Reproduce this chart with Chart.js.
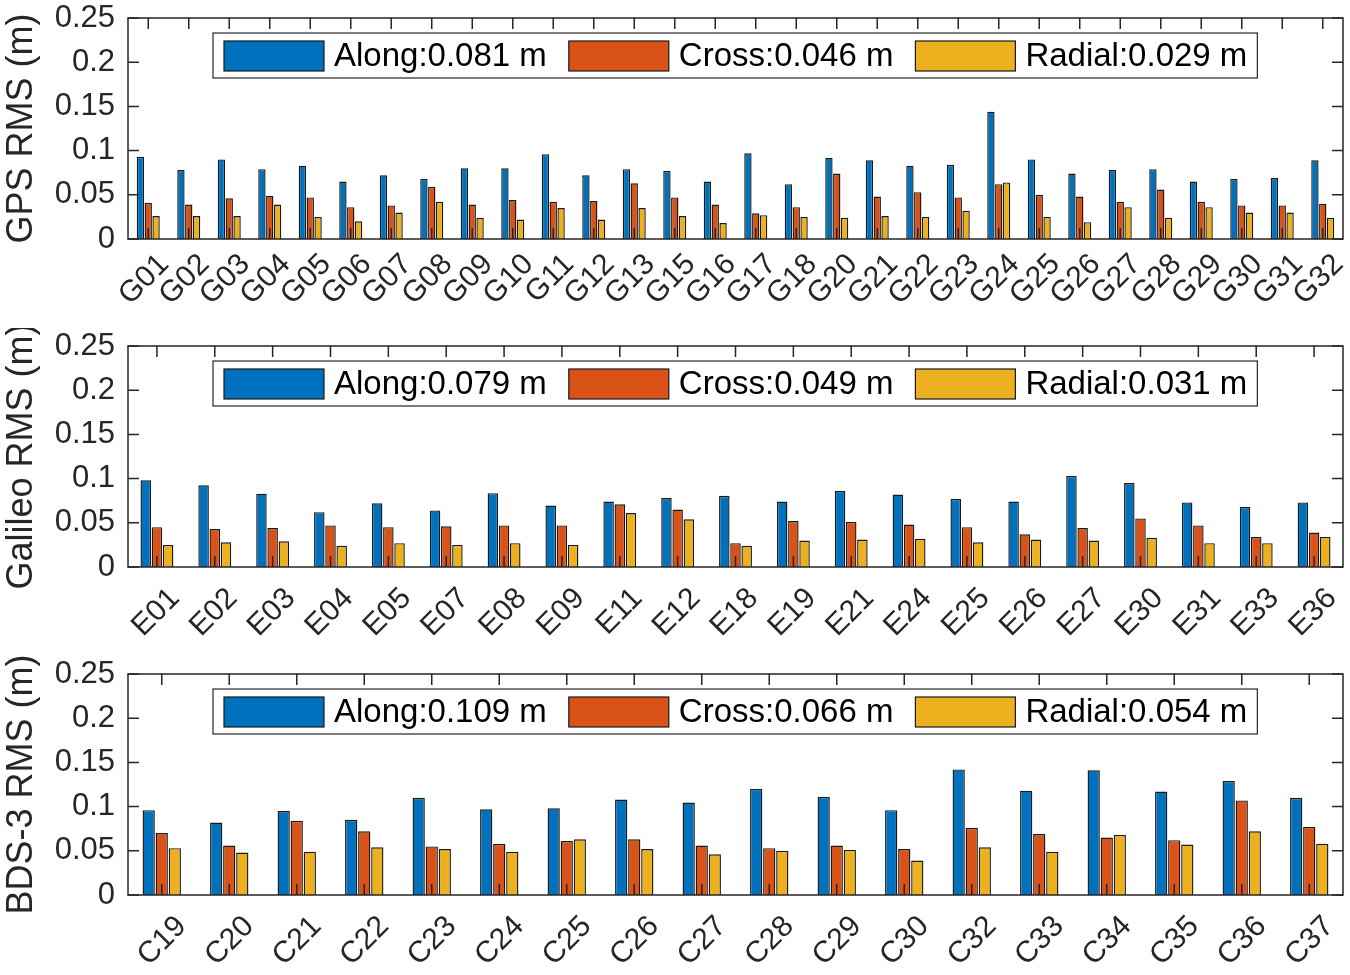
<!DOCTYPE html>
<html lang="en">
<head>
    <meta charset="UTF-8">
    <title>Orbit RMS per satellite</title>
    <script src="https://cdn.jsdelivr.net/npm/chart.js"></script>
    <style>
        html, body { margin: 0; padding: 0; background: #fff; overflow: hidden; }
        .panel { position: absolute; left: 0; width: 1350px; height: 328px; }
    </style>
</head>
<body>
    <div class="panel" style="top:0px"><canvas id="gpsChart"></canvas></div>
    <div class="panel" style="top:328px"><canvas id="galChart"></canvas></div>
    <div class="panel" style="top:656px"><canvas id="bdsChart"></canvas></div>

    <script>
    // RMS values (m)
    const gpsSats = ['G01','G02','G03','G04','G05','G06','G07','G08','G09','G10','G11','G12','G13','G15','G16',
                     'G17','G18','G20','G21','G22','G23','G24','G25','G26','G27','G28','G29','G30','G31','G32'];
    const gpsAlong  = [0.093,0.078,0.090,0.079,0.083,0.065,0.072,0.068,0.080,0.080,0.096,0.072,0.079,0.077,0.065,
                       0.097,0.062,0.092,0.089,0.083,0.084,0.144,0.090,0.074,0.078,0.079,0.065,0.068,0.069,0.089];
    const gpsCross  = [0.041,0.039,0.046,0.049,0.047,0.036,0.038,0.059,0.039,0.044,0.042,0.043,0.063,0.047,0.039,
                       0.029,0.036,0.074,0.048,0.053,0.047,0.062,0.050,0.048,0.042,0.056,0.042,0.038,0.038,0.040];
    const gpsRadial = [0.026,0.026,0.026,0.039,0.025,0.020,0.030,0.042,0.024,0.022,0.035,0.022,0.035,0.026,0.018,
                       0.027,0.025,0.024,0.026,0.025,0.032,0.064,0.025,0.019,0.036,0.024,0.036,0.030,0.030,0.024];
    const gpsMean = ['0.081', '0.046', '0.029'];

    const galSats = ['E01','E02','E03','E04','E05','E07','E08','E09','E11','E12','E18',
                     'E19','E21','E24','E25','E26','E27','E30','E31','E33','E36'];
    const galAlong  = [0.098,0.0925,0.083,0.062,0.072,0.064,0.0835,0.0695,0.074,0.078,0.0805,
                       0.074,0.086,0.082,0.077,0.074,0.103,0.095,0.073,0.068,0.073];
    const galCross  = [0.045,0.043,0.044,0.047,0.045,0.046,0.047,0.047,0.071,0.065,0.027,
                       0.052,0.051,0.048,0.045,0.037,0.044,0.055,0.047,0.034,0.039];
    const galRadial = [0.025,0.028,0.029,0.024,0.027,0.025,0.027,0.025,0.061,0.054,0.024,
                       0.030,0.031,0.032,0.028,0.031,0.030,0.033,0.027,0.027,0.034];
    const galMean = ['0.079', '0.049', '0.031'];

    const bdsSats = ['C19','C20','C21','C22','C23','C24','C25','C26','C27',
                     'C28','C29','C30','C32','C33','C34','C35','C36','C37'];
    const bdsAlong  = [0.096,0.082,0.095,0.085,0.110,0.097,0.098,0.108,0.1045,
                       0.120,0.111,0.096,0.142,0.118,0.141,0.117,0.129,0.110];
    const bdsCross  = [0.070,0.056,0.084,0.072,0.055,0.058,0.061,0.063,0.056,
                       0.053,0.056,0.052,0.076,0.069,0.065,0.062,0.107,0.077];
    const bdsRadial = [0.053,0.048,0.049,0.054,0.052,0.049,0.063,0.052,0.046,
                       0.050,0.051,0.039,0.054,0.049,0.068,0.057,0.072,0.058];
    const bdsMean = ['0.109', '0.066', '0.054'];

    const compNames = ['Along', 'Cross', 'Radial'];
    const compColors = ['#0072BD', '#D95319', '#EDB120'];
    const yTicks = [0, 0.05, 0.1, 0.15, 0.2, 0.25];

    const FONT = '"Liberation Sans", Arial, sans-serif';
    const AXIS_COLOR = '#262626';

    // box around the axes with inward ticks on all four sides (MATLAB look)
    const boxPlugin = {
        id: 'boxAxes',
        afterDatasetsDraw(chart) {
            const { ctx, chartArea: a, scales } = chart;
            const tl = 11;
            ctx.save();
            ctx.strokeStyle = AXIS_COLOR;
            ctx.lineWidth = 1.5;
            ctx.strokeRect(a.left, a.top, a.right - a.left, a.bottom - a.top);
            ctx.beginPath();
            yTicks.forEach(v => {
                const y = scales.y.getPixelForValue(v);
                ctx.moveTo(a.left, y); ctx.lineTo(a.left + tl, y);
                ctx.moveTo(a.right, y); ctx.lineTo(a.right - tl, y);
            });
            chart.data.labels.forEach((l, i) => {
                const x = scales.x.getPixelForTick(i);
                ctx.moveTo(x, a.bottom); ctx.lineTo(x, a.bottom - tl);
                ctx.moveTo(x, a.top); ctx.lineTo(x, a.top + tl);
            });
            ctx.stroke();
            ctx.restore();
        }
    };

    // legend drawn inside the axes, centred near the top
    const insideLegend = {
        id: 'insideLegend',
        afterDraw(chart, args, opts) {
            const { ctx, chartArea: a } = chart;
            ctx.save();
            ctx.font = '33px ' + FONT;
            const texts = compNames.map((n, i) => n + ':' + opts.means[i] + ' m');
            const sw = 100, sh = 30, gap = 10, between = 22, padL = 11, padR = 10;
            const widths = texts.map(t => ctx.measureText(t).width);
            let total = padL + padR;
            widths.forEach((w, i) => { total += sw + gap + w + (i < widths.length - 1 ? between : 0); });
            const boxH = 45;
            const bx = Math.round((a.left + a.right) / 2 - total / 2);
            const by = a.top + 15;
            ctx.fillStyle = '#fff';
            ctx.fillRect(bx, by, total, boxH);
            ctx.strokeStyle = AXIS_COLOR;
            ctx.lineWidth = 1.2;
            ctx.strokeRect(bx, by, total, boxH);
            let x = bx + padL;
            texts.forEach((t, i) => {
                ctx.fillStyle = compColors[i];
                ctx.fillRect(x, by + 8, sw, sh);
                ctx.strokeStyle = '#1a1a1a';
                ctx.lineWidth = 1.2;
                ctx.strokeRect(x, by + 8, sw, sh);
                ctx.fillStyle = '#000';
                ctx.textBaseline = 'middle';
                ctx.fillText(t, x + sw + gap, by + boxH / 2 + 1);
                x += sw + gap + widths[i] + between;
            });
            ctx.restore();
        }
    };

    function makeChart(id, sats, along, cross, radial, means, yTitle, lblOffset, lblPad) {
        const series = [along, cross, radial];
        return new Chart(document.getElementById(id), {
            type: 'bar',
            data: {
                labels: sats,
                datasets: series.map((d, i) => ({
                    label: compNames[i],
                    data: d,
                    backgroundColor: compColors[i],
                    borderColor: '#1a1a1a',
                    borderWidth: 1.4,
                    categoryPercentage: 0.58,
                    barPercentage: 0.94
                }))
            },
            options: {
                responsive: true,
                maintainAspectRatio: false,
                animation: false,
                layout: { padding: { top: 18, right: 7, left: 0, bottom: 0 } },
                plugins: {
                    legend: { display: false },
                    tooltip: { enabled: false },
                    insideLegend: { means: means }
                },
                scales: {
                    x: {
                        offset: true,
                        grid: { display: false, drawTicks: false },
                        border: { display: false },
                        ticks: {
                            autoSkip: false,
                            minRotation: 45,
                            maxRotation: 45,
                            padding: lblPad,
                            labelOffset: lblOffset,
                            color: AXIS_COLOR,
                            font: { family: FONT, size: 30 }
                        },
                        afterFit(s) {
                            s.height = 89;
                            s.paddingLeft = 0;
                            s.paddingRight = 0;
                        }
                    },
                    y: {
                        min: 0,
                        max: 0.25,
                        grid: { display: false, drawTicks: false },
                        border: { display: false },
                        afterBuildTicks(s) { s.ticks = yTicks.map(v => ({ value: v })); },
                        ticks: {
                            padding: 13,
                            color: AXIS_COLOR,
                            font: { family: FONT, size: 31 },
                            callback: v => String(Number(v.toFixed(2)))
                        },
                        title: {
                            display: true,
                            text: yTitle,
                            color: AXIS_COLOR,
                            font: { family: FONT, size: 36 },
                            padding: { top: 0, bottom: 0 }
                        },
                        afterFit(s) {
                            s.width = 128;
                            s.paddingTop = 0;
                            s.paddingBottom = 0;
                        }
                    }
                }
            },
            plugins: [boxPlugin, insideLegend]
        });
    }

    makeChart('gpsChart', gpsSats, gpsAlong, gpsCross, gpsRadial, gpsMean, 'GPS RMS (m)', 16, 8);
    makeChart('galChart', galSats, galAlong, galCross, galRadial, galMean, 'Galileo RMS (m)', 18, 14);
    makeChart('bdsChart', bdsSats, bdsAlong, bdsCross, bdsRadial, bdsMean, 'BDS-3 RMS (m)', 20, 14);
    </script>
</body>
</html>
